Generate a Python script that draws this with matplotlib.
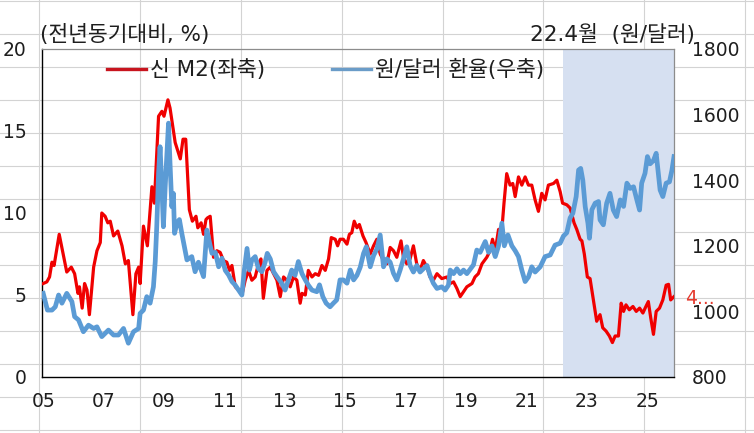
import matplotlib
matplotlib.use('Agg')
import matplotlib.pyplot as plt
from matplotlib.lines import Line2D

# ---------------- data ----------------
m2_t = [2005.00, 2005.12, 2005.21, 2005.29, 2005.36, 2005.53, 2005.65, 2005.78, 2005.93, 2006.04,
        2006.15, 2006.20, 2006.29, 2006.37, 2006.45, 2006.53, 2006.67, 2006.78, 2006.89, 2006.94,
        2007.05, 2007.14, 2007.22, 2007.33, 2007.47, 2007.61, 2007.72, 2007.82, 2007.97, 2008.07,
        2008.16, 2008.21, 2008.32, 2008.45, 2008.60, 2008.68, 2008.82, 2008.93, 2009.00, 2009.13,
        2009.20, 2009.37, 2009.54, 2009.63, 2009.72, 2009.84, 2009.94, 2010.06, 2010.12, 2010.23,
        2010.31, 2010.39, 2010.44, 2010.53, 2010.59, 2010.64, 2010.75, 2010.86, 2010.97, 2011.08,
        2011.17, 2011.25, 2011.36, 2011.47, 2011.58, 2011.69, 2011.80, 2011.91, 2012.02, 2012.13,
        2012.21, 2012.29, 2012.41, 2012.52, 2012.63, 2012.74, 2012.85, 2012.96, 2013.07, 2013.18,
        2013.29, 2013.40, 2013.51, 2013.57, 2013.68, 2013.78, 2013.90, 2014.01, 2014.12, 2014.23,
        2014.34, 2014.45, 2014.54, 2014.67, 2014.75, 2014.83, 2014.94, 2015.06, 2015.14, 2015.22,
        2015.30, 2015.39, 2015.47, 2015.59, 2015.69, 2015.83, 2015.94, 2016.05, 2016.16, 2016.27,
        2016.38, 2016.49, 2016.60, 2016.71, 2016.85, 2016.93, 2017.04, 2017.15, 2017.26, 2017.37,
        2017.48, 2017.59, 2017.71, 2017.81, 2017.92, 2018.04, 2018.20, 2018.37, 2018.48, 2018.59,
        2018.70, 2018.81, 2018.92, 2019.03, 2019.20, 2019.30, 2019.41, 2019.53, 2019.69, 2019.80,
        2019.88, 2019.97, 2020.08, 2020.19, 2020.26, 2020.35, 2020.46, 2020.55, 2020.63, 2020.74,
        2020.85, 2020.96, 2021.07, 2021.18, 2021.29, 2021.40, 2021.51, 2021.62, 2021.73, 2021.90,
        2022.01, 2022.12, 2022.20, 2022.34, 2022.45, 2022.58, 2022.67, 2022.78, 2022.84, 2022.92,
        2023.02, 2023.11, 2023.22, 2023.33, 2023.44, 2023.53, 2023.64, 2023.75, 2023.85, 2023.94,
        2024.05, 2024.14, 2024.22, 2024.30, 2024.41, 2024.53, 2024.64, 2024.75, 2024.86, 2024.96,
        2025.04, 2025.12, 2025.21, 2025.30, 2025.41, 2025.52, 2025.63, 2025.71, 2025.78, 2025.89]
m2_v = [5.7, 5.8, 6.1, 7.0, 6.8, 8.7, 7.6, 6.4, 6.7, 6.3,
        5.1, 5.5, 4.2, 5.7, 5.3, 3.8, 6.7, 7.7, 8.2, 10.0,
        9.8, 9.4, 9.5, 8.6, 8.9, 8.0, 6.9, 7.1, 3.8, 6.3,
        6.7, 5.7, 9.2, 8.0, 11.6, 10.6, 15.9, 16.2, 15.9, 16.9,
        16.4, 14.3, 13.3, 14.5, 14.5, 10.2, 9.5, 9.8, 9.1, 9.4,
        8.7, 9.6, 9.7, 9.8, 8.5, 7.3, 7.7, 7.6, 7.1, 7.0,
        6.5, 6.8, 5.5, 5.3, 5.0, 5.9, 6.5, 5.9, 6.1, 6.9,
        7.2, 4.8, 6.5, 6.7, 6.3, 5.9, 4.9, 6.1, 5.9, 5.5,
        6.1, 5.9, 4.5, 5.1, 5.0, 6.5, 6.1, 6.3, 6.2, 6.8,
        6.5, 7.2, 8.5, 8.4, 8.0, 8.4, 8.4, 8.1, 8.7, 8.8,
        9.5, 9.1, 9.3, 8.6, 8.2, 7.5, 8.0, 8.4, 7.5, 7.1,
        6.9, 7.9, 7.7, 7.3, 8.3, 7.3, 6.9, 7.2, 8.0, 6.9,
        6.5, 7.1, 6.7, 6.1, 5.9, 6.3, 6.0, 6.1, 5.7, 5.8,
        5.4, 4.9, 5.2, 5.5, 5.7, 6.1, 6.3, 6.9, 7.3, 7.7,
        8.4, 7.7, 9.0, 9.0, 10.6, 12.4, 11.7, 11.8, 11.0, 12.2,
        11.7, 12.2, 11.7, 11.7, 10.8, 10.1, 11.2, 10.8, 11.7, 11.8,
        12.0, 11.3, 10.6, 10.5, 10.3, 9.4, 9.0, 8.4, 8.3, 7.5,
        6.1, 6.0, 4.7, 3.4, 3.8, 3.0, 2.8, 2.5, 2.1, 2.5,
        2.5, 4.5, 4.0, 4.4, 4.1, 4.3, 4.0, 4.2, 3.9, 4.3,
        4.6, 3.6, 2.6, 4.0, 4.2, 4.7, 5.6, 5.65, 4.7, 4.9]

fx_t = [2005.00, 2005.14, 2005.29, 2005.40, 2005.51, 2005.62, 2005.78, 2005.95, 2006.04, 2006.17,
        2006.33, 2006.50, 2006.67, 2006.78, 2006.94, 2007.16, 2007.33, 2007.49, 2007.66, 2007.82,
        2007.99, 2008.16, 2008.21, 2008.32, 2008.43, 2008.54, 2008.65, 2008.71, 2008.76, 2008.82,
        2008.87, 2008.93, 2008.98, 2009.04, 2009.15, 2009.20, 2009.26, 2009.31, 2009.35, 2009.43,
        2009.51, 2009.59, 2009.76, 2009.92, 2010.03, 2010.14, 2010.31, 2010.42, 2010.53, 2010.59,
        2010.70, 2010.81, 2010.92, 2011.03, 2011.14, 2011.25, 2011.36, 2011.47, 2011.58, 2011.66,
        2011.75, 2011.83, 2011.91, 2012.02, 2012.13, 2012.24, 2012.35, 2012.42, 2012.52, 2012.63,
        2012.74, 2012.90, 2013.01, 2013.12, 2013.23, 2013.34, 2013.45, 2013.57, 2013.68, 2013.78,
        2013.90, 2014.06, 2014.15, 2014.26, 2014.37, 2014.50, 2014.61, 2014.72, 2014.83, 2014.94,
        2015.06, 2015.17, 2015.28, 2015.39, 2015.50, 2015.61, 2015.70, 2015.83, 2015.94, 2016.05,
        2016.16, 2016.27, 2016.38, 2016.49, 2016.60, 2016.71, 2016.82, 2016.93, 2017.04, 2017.15,
        2017.26, 2017.37, 2017.48, 2017.59, 2017.71, 2017.81, 2017.92, 2018.04, 2018.20, 2018.31,
        2018.42, 2018.48, 2018.59, 2018.70, 2018.81, 2018.92, 2019.03, 2019.25, 2019.36, 2019.47,
        2019.64, 2019.75, 2019.86, 2019.97, 2020.08, 2020.19, 2020.27, 2020.39, 2020.52, 2020.63,
        2020.74, 2020.85, 2020.96, 2021.07, 2021.18, 2021.29, 2021.46, 2021.62, 2021.79, 2021.95,
        2022.12, 2022.23, 2022.34, 2022.45, 2022.54, 2022.65, 2022.73, 2022.80, 2022.87, 2022.95,
        2023.04, 2023.09, 2023.17, 2023.28, 2023.39, 2023.44, 2023.55, 2023.66, 2023.77, 2023.88,
        2023.99, 2024.11, 2024.22, 2024.33, 2024.44, 2024.55, 2024.66, 2024.75, 2024.82, 2024.93,
        2025.01, 2025.10, 2025.21, 2025.30, 2025.35, 2025.43, 2025.52, 2025.63, 2025.74, 2025.82,
        2025.89]
fx_v = [1055, 1004, 1004, 1014, 1050, 1025, 1055, 1030, 984, 974,
        938, 958, 948, 953, 923, 943, 928, 928, 948, 903,
        938, 948, 994, 1004, 1045, 1025, 1075, 1152, 1258, 1421,
        1502, 1380, 1258, 1380, 1574, 1451, 1319, 1360, 1238, 1269,
        1280, 1238, 1157, 1167, 1121, 1150, 1106, 1248, 1200, 1177,
        1180, 1136, 1162, 1125, 1111, 1091, 1080, 1065, 1050, 1126,
        1192, 1126, 1157, 1167, 1130, 1121, 1150, 1177, 1160, 1121,
        1106, 1086, 1065, 1096, 1126, 1110, 1152, 1115, 1096, 1080,
        1065, 1060, 1081, 1045, 1025, 1014, 1025, 1035, 1096, 1096,
        1086, 1126, 1096, 1110, 1135, 1177, 1197, 1136, 1170, 1190,
        1233, 1136, 1160, 1150, 1116, 1096, 1126, 1160, 1197, 1140,
        1120, 1140, 1120, 1130, 1140, 1110, 1086, 1070, 1075, 1065,
        1080, 1126, 1115, 1130, 1115, 1126, 1115, 1142, 1187, 1180,
        1213, 1180, 1200, 1167, 1200, 1269, 1200, 1233, 1200, 1185,
        1167, 1126, 1091, 1105, 1136, 1120, 1136, 1167, 1172, 1202,
        1208, 1230, 1240, 1285, 1299, 1350, 1431, 1436, 1400, 1319,
        1269, 1223, 1310, 1330, 1335, 1279, 1264, 1330, 1360, 1309,
        1289, 1340, 1320, 1391, 1375, 1380, 1340, 1309, 1391, 1421,
        1472, 1450, 1460, 1482, 1440, 1370, 1350, 1391, 1395, 1430,
        1472]

x_ticks = [2005, 2007, 2009, 2011, 2013, 2015, 2017, 2019, 2021, 2023, 2025]
x_tick_labels = ['05', '07', '09', '11', '13', '15', '17', '19', '21', '23', '25']
left_ticks = [0, 5, 10, 15, 20]
right_ticks = [800, 1000, 1200, 1400, 1600, 1800]
x_range = (2004.96, 2025.89)
shade_start = 2022.2
series_labels = ['신 M2(좌축)', '원/달러 환율(우축)']
last_label = '4...'
left_title = '(전년동기대비, %)'
right_title = '22.4월  (원/달러)'

# ---------------- style ----------------
plt.rcParams['font.family'] = ['DejaVu Sans', 'Noto Sans CJK KR']
FS = 13.5      # numbers
FSK = 15.5     # texts containing Hangul
TXT = '#1E1E1E'
RED = '#F00000'
BLUE = '#5B9BD5'
SHADE = '#D6E0F1'
GRID = '#D3D3D3'

W, H = 754, 433
fig = plt.figure(figsize=(W / 100, H / 100), dpi=100)
fig.patch.set_facecolor('white')

# spreadsheet cell grid behind the transparent chart
for gx in [39, 140, 241, 342, 443, 543, 644, 745]:
    fig.add_artist(Line2D([gx / W, gx / W], [0, 1], color=GRID, lw=0.8, zorder=0.1))
for gy in [0.5, 33.5, 66.7, 99.8, 133, 166, 199, 232, 265, 298, 331, 364, 397, 430]:
    fig.add_artist(Line2D([0, 1], [1 - gy / H, 1 - gy / H], color=GRID, lw=0.8, zorder=0.1))

ax = fig.add_axes([42 / W, (H - 377) / H, 632 / W, 328 / H])
ax.patch.set_visible(False)
ax2 = ax.twinx()
ax2.patch.set_visible(False)
ax.set_zorder(1)
ax2.set_zorder(2)

ax.set_xlim(*x_range)
ax.set_ylim(left_ticks[0], left_ticks[-1])
ax2.set_ylim(right_ticks[0], right_ticks[-1])

ax.axvspan(shade_start, x_range[1], color=SHADE, lw=0, zorder=0)

ax.plot(m2_t, m2_v, color=RED, lw=2.3, solid_joinstyle='round', zorder=3)
ax2.plot(fx_t, fx_v, color=BLUE, lw=3.4, solid_joinstyle='round', zorder=3)

ax.set_xticks(x_ticks)
ax.set_xticklabels(x_tick_labels)
ax.set_yticks(left_ticks)
ax2.set_yticks(right_ticks)
ax.tick_params(axis='x', length=0, pad=11, labelsize=FS, colors=TXT)
ax.tick_params(axis='y', length=0, pad=11, labelsize=FS, colors=TXT)
ax2.tick_params(axis='y', length=0, pad=13, labelsize=FS, colors=TXT)
for lab in ax2.get_yticklabels():
    lab.set_horizontalalignment('left')

for s in ['left', 'bottom']:
    ax.spines[s].set_color('black')
    ax.spines[s].set_linewidth(1.0)
for s in ['top', 'right']:
    ax.spines[s].set_color('#8C8C8C')
    ax.spines[s].set_linewidth(0.9)
for s in ax2.spines.values():
    s.set_visible(False)

# legend
handles = [Line2D([], [], color='#C8141E', lw=2.4), Line2D([], [], color='#6A9CC8', lw=2.4)]
leg = ax2.legend(handles, series_labels, loc='upper left', bbox_to_anchor=(107 / W, 1 - 59 / H),
                 bbox_transform=fig.transFigure, ncol=2, frameon=False, fontsize=FSK,
                 handlelength=1.8, handletextpad=0.2, columnspacing=3.1,
                 borderpad=0, borderaxespad=0)
for t in leg.get_texts():
    t.set_color(TXT)

# last value label
ax.annotate(last_label, xy=(m2_t[-1], m2_v[-1]), xytext=(8, -1), textcoords='offset points',
            color='#E53A2E', fontsize=FS, ha='left', va='center', annotation_clip=False, zorder=5)

fig.text(40 / W, 1 - 34 / H, left_title, fontsize=FSK, ha='left', va='center', color=TXT)
fig.text(530 / W, 1 - 35 / H, right_title, fontsize=FSK, ha='left', va='center', color=TXT)

fig.savefig('out.png', dpi=100)
